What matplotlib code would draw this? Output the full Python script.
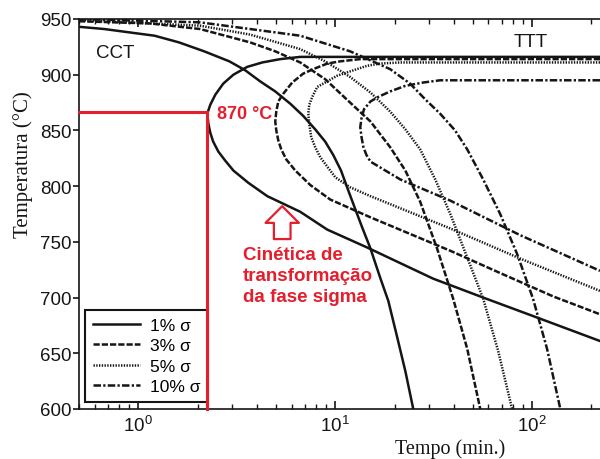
import matplotlib
matplotlib.use('Agg')
import matplotlib.pyplot as plt
from matplotlib.ticker import LogLocator, NullFormatter

# ---------------- data (time in min, temperature in °C) ----------------
# CCT curves (continuous cooling)
t1_cct = [0.5, 0.672, 0.90, 1.21, 1.61, 2.16, 2.90, 3.49, 4.16, 4.96, 5.91, 6.88, 7.91,
          8.89, 9.77, 10.7, 11.6, 12.6, 13.7, 15.1, 16.9, 18.6, 20.6, 22.7, 24.9]
T1_cct = [943, 941, 938, 935, 929, 921, 912, 904, 894, 885, 874, 863, 851,
          840, 828, 814, 797, 780, 763, 744, 718, 697, 665, 634, 600]

t3_cct = [0.5, 1.15, 2.06, 3.70, 4.96, 6.64, 8.89, 11.9, 15.1, 19.0, 22.7, 27.0,
          32.9, 39.7, 46.8, 54.5]
T3_cct = [948, 946, 941, 929, 921, 911, 896, 875, 858, 835, 814, 786,
          744, 699, 654, 600]

t5_cct = [0.5, 2.06, 3.70, 6.64, 8.89, 11.9, 15.1, 19.0, 22.7, 27.0, 32.2, 38.4,
          46.8, 56.4, 67.2, 79.1]
T5_cct = [949, 944, 936, 923, 912, 898, 884, 867, 851, 833, 806, 775,
          736, 699, 652, 600]

t10_cct = [0.5, 2.06, 6.64, 11.9, 19.0, 24.0, 28.6, 34.1, 40.6, 46.8, 56.4, 68.8,
           83.9, 101, 119, 139]
T10_cct = [950, 947, 935, 921, 905, 892, 878, 865, 850, 833, 806, 775,
           739, 699, 654, 600]

# TTT C-curves (isothermal)
t1_ttt = [221, 6.64, 5.26, 4.26, 3.57, 3.04, 2.70, 2.46, 2.32, 2.24, 2.27, 2.32,
          2.40, 2.55, 2.76, 3.04, 3.62, 4.52, 6.64, 9.11, 14.5, 31.4, 56.4, 110, 221]
T1_ttt = [916, 916, 914, 911, 907, 900, 892, 882, 873, 865, 856, 848,
          840, 831, 823, 814, 803, 791, 777, 761, 745, 717, 700, 681, 661]

t3_ttt = [221, 13.4, 10.6, 9.11, 7.73, 6.88, 6.05, 5.45, 5.14, 5.02, 4.96, 5.02,
          5.14, 5.32, 5.64, 6.27, 7.47, 9.43, 15.1, 38.4, 68.8, 128, 221]
T3_ttt = [914, 914, 912, 910, 905, 901, 893, 883, 876, 867, 858, 850,
          841, 833, 824, 814, 801, 788, 772, 742, 722, 701, 685]

t5_ttt = [221, 21.4, 16.9, 14.5, 11.9, 10.2, 8.89, 8.10, 7.64, 7.38, 7.30, 7.38,
          7.55, 7.91, 8.39, 10.0, 11.9, 15.1, 38.4, 86.9, 221]
T5_ttt = [911, 911, 910, 908, 903, 899, 893, 889, 880, 873, 865, 856,
          844, 835, 826, 808, 799, 791, 762, 735, 706]

t10_ttt = [221, 34.1, 28.0, 22.7, 19.0, 16.5, 15.1, 14.0, 13.6, 13.4, 13.6, 13.9,
           14.4, 15.1, 21.4, 38.4, 86.9, 221]
T10_ttt = [895, 895, 893, 890, 885, 880, 876, 869, 861, 853, 844, 835,
           828, 822, 806, 787, 756, 724]

labels = ["1% σ", "3% σ", "5% σ", "10% σ"]

# Marked point (sigma kinetics at 870 °C)
mark_T = 866.5
mark_t = 2.24

yticks = [600, 650, 700, 750, 800, 850, 900, 950]

# ---------------- styling ----------------
plt.rcParams['font.family'] = ['Liberation Sans', 'DejaVu Sans']
plt.rcParams['mathtext.fontset'] = 'custom'
plt.rcParams['mathtext.rm'] = 'Liberation Sans'
plt.rcParams['mathtext.it'] = 'Liberation Sans:italic'

RED = '#e31e2d'
INK = '#151515'
LW = 1.8
styles = ['-', (0, (2.5, 0.8)), (0, (0.55, 0.55)), (0, (3, 0.9, 0.9, 0.9))]

fig = plt.figure(figsize=(6, 4.6), dpi=100)
ax = fig.add_axes([79/600, 50/460, 521/600, 390/460])
ax.set_xscale('log')

cct = [(t1_cct, T1_cct), (t3_cct, T3_cct), (t5_cct, T5_cct), (t10_cct, T10_cct)]
ttt = [(t1_ttt, T1_ttt), (t3_ttt, T3_ttt), (t5_ttt, T5_ttt), (t10_ttt, T10_ttt)]
handles = []
for (tc, Tc), (tt, Tt), ls, lab in zip(cct, ttt, styles, labels):
    h, = ax.plot(tc, Tc, color=INK, lw=LW, linestyle=ls, label=lab,
                 solid_joinstyle='round', dash_joinstyle='round')
    ax.plot(tt, Tt, color=INK, lw=LW, linestyle=ls,
            solid_joinstyle='round', dash_joinstyle='round')
    handles.append(h)

ax.set_xlim(0.5, 221)
ax.set_ylim(600, 950)

# red marking lines
ax.plot([0.5, mark_t], [mark_T, mark_T], color=RED, lw=2.2, zorder=6, clip_on=False)
ax.plot([mark_t, mark_t], [mark_T, 600], color=RED, lw=2.2, zorder=6, clip_on=False)

ax.text(2.52, 865, "870 °C", color=RED, fontsize=13, fontweight='bold',
        ha='left', va='center')
ax.text(0.612, 919.5, "CCT", color=INK, fontsize=13.5, ha='left', va='center')
ax.text(80.1, 930, "TTT", color=INK, fontsize=13.5, ha='left', va='center')

ax.annotate('', xy=(5.38, 782), xytext=(5.38, 752.5),
            arrowprops=dict(arrowstyle='simple,head_length=0.6,head_width=1.2,tail_width=0.6',
                            mutation_scale=20, fc='white', ec=RED, lw=1.6,
                            shrinkA=0, shrinkB=0))
ax.text(3.41, 746, "Cinética de\ntransformação\nda fase sigma", color=RED,
        fontsize=13.5, fontweight='bold', ha='left', va='top', linespacing=1.3)

# axes / ticks
for s in ['left', 'bottom', 'top']:
    ax.spines[s].set_linewidth(1.2)
    ax.spines[s].set_color(INK)
ax.spines['right'].set_visible(False)

ax.set_yticks(yticks)
ax.tick_params(axis='y', direction='out', length=4, width=1.2, labelsize=13.5,
               pad=1.5, right=False, colors=INK)
ax.xaxis.set_major_locator(LogLocator(base=10, numticks=10))
ax.xaxis.set_minor_locator(LogLocator(base=10, subs=range(2, 10), numticks=20))
ax.xaxis.set_minor_formatter(NullFormatter())
ax.tick_params(axis='x', which='major', direction='in', length=6, width=1.2,
               top=True, labelsize=13.5, pad=4, colors=INK)
ax.tick_params(axis='x', which='minor', direction='in', length=3.5, width=1,
               top=True, colors=INK)

ax.set_ylabel("Temperatura (°C)", fontfamily='Liberation Serif', fontsize=15, color=INK)
ax.yaxis.set_label_coords(-0.088, 0.628)
ax.set_xlabel("Tempo (min.)", fontfamily='Liberation Serif', fontsize=14.5, color=INK)
ax.xaxis.set_label_coords(0.712, -0.076)

leg = ax.legend(handles=handles, loc='lower left', bbox_to_anchor=(0.0115, 0.018),
                borderaxespad=0, fontsize=12.5, handlelength=2.7, handletextpad=0.6,
                labelspacing=0.3, borderpad=0.45, fancybox=False, framealpha=1,
                edgecolor=INK)
leg.get_frame().set_linewidth(1.5)

fig.savefig('out.png', dpi=100)
